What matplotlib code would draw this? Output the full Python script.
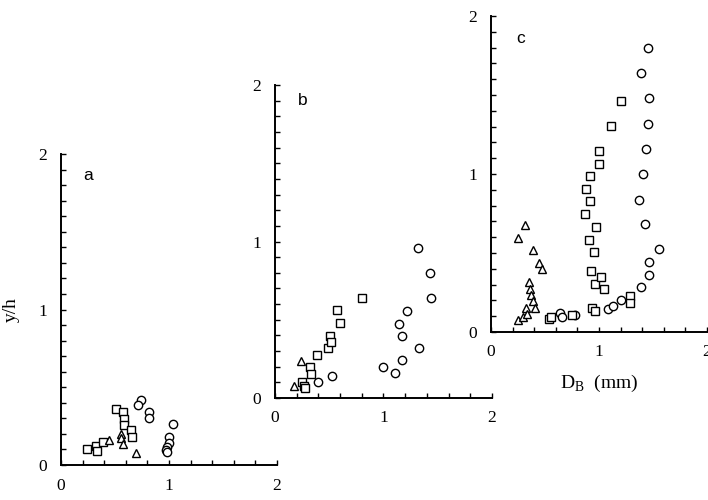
import numpy as np
import matplotlib
matplotlib.use("Agg")
from matplotlib import pyplot as plt
from matplotlib.ticker import MultipleLocator

plt.rcParams['font.family'] = 'serif'
plt.rcParams['font.serif'] = ['Liberation Serif', 'DejaVu Serif']
plt.rcParams['mathtext.fontset'] = 'custom'
plt.rcParams['mathtext.rm'] = 'Liberation Serif'

# panel a
a_sq_x = [0.245, 0.325, 0.33, 0.387, 0.505, 0.57, 0.585, 0.587, 0.648, 0.657]
a_sq_y = [0.104, 0.12, 0.093, 0.146, 0.358, 0.341, 0.297, 0.258, 0.222, 0.18]
a_tr_x = [0.44, 0.555, 0.558, 0.575, 0.69]
a_tr_y = [0.16, 0.20, 0.176, 0.136, 0.08]
a_ci_x = [0.743, 0.715, 0.816, 0.816, 1.035, 1.003, 0.997, 0.98, 0.968, 0.977]
a_ci_y = [0.419, 0.383, 0.342, 0.303, 0.262, 0.182, 0.142, 0.116, 0.098, 0.082]

# panel b
b_sq_x = [0.25, 0.265, 0.28, 0.324, 0.333, 0.389, 0.487, 0.503, 0.512, 0.571, 0.599, 0.80]
b_sq_y = [0.10, 0.075, 0.062, 0.198, 0.155, 0.277, 0.317, 0.396, 0.357, 0.56, 0.477, 0.638]
b_tr_x = [0.178, 0.24]
b_tr_y = [0.077, 0.234]
b_ci_x = [0.401, 0.525, 0.991, 1.109, 1.17, 1.331, 1.14, 1.17, 1.214, 1.319, 1.43, 1.436]
b_ci_y = [0.10, 0.14, 0.198, 0.16, 0.24, 0.317, 0.474, 0.396, 0.557, 0.957, 0.798, 0.638]

# panel c
c_sq_x = [0.538, 0.56, 0.754, 0.938, 0.96, 0.929, 0.96, 1.02, 1.05, 1.283, 1.29,
          0.908, 0.95, 0.975, 0.87, 0.877, 0.92, 0.92, 1.0, 1.0, 1.108, 1.2]
c_sq_y = [0.082, 0.092, 0.109, 0.151, 0.13, 0.385, 0.306, 0.347, 0.27, 0.23, 0.185,
          0.585, 0.506, 0.666, 0.747, 0.904, 0.826, 0.985, 1.066, 1.143, 1.304, 1.464]
c_tr_x = [0.246, 0.298, 0.323, 0.335, 0.354, 0.363, 0.366, 0.385, 0.406,
          0.246, 0.317, 0.388, 0.446, 0.468]
c_tr_y = [0.079, 0.096, 0.155, 0.117, 0.317, 0.272, 0.236, 0.198, 0.151,
          0.598, 0.677, 0.517, 0.436, 0.398]
c_ci_x = [0.637, 0.662, 0.778, 1.083, 1.129, 1.203, 1.39, 1.46, 1.46, 1.56,
          1.43, 1.375, 1.406, 1.437, 1.452, 1.46, 1.39, 1.452]
c_ci_y = [0.122, 0.095, 0.109, 0.145, 0.164, 0.202, 0.283, 0.362, 0.443, 0.523,
          0.681, 0.838, 1.0, 1.16, 1.319, 1.479, 1.638, 1.798]

panels = [
    ("a", [0.0862, 0.070, 0.305, 0.622], (a_sq_x, a_sq_y), (a_tr_x, a_tr_y), (a_ci_x, a_ci_y), (0.25, 1.86)),
    ("b", [0.3884, 0.204, 0.3065, 0.626], (b_sq_x, b_sq_y), (b_tr_x, b_tr_y), (b_ci_x, b_ci_y), (0.26, 1.90)),
    ("c", [0.6935, 0.336, 0.305, 0.632], (c_sq_x, c_sq_y), (c_tr_x, c_tr_y), (c_ci_x, c_ci_y), (0.27, 1.86)),
]

fig = plt.figure(figsize=(7.08, 5.0), dpi=100)
axes = []
for name, rect, sq, tr, ci, lab in panels:
    ax = fig.add_axes(rect)
    ax.patch.set_alpha(0)
    mk = dict(linestyle='none', markerfacecolor='white', markeredgecolor='black',
              markeredgewidth=1.0, clip_on=False)
    ax.plot(ci[0], ci[1], marker='o', markersize=6, **mk)
    ax.plot(sq[0], sq[1], marker='s', markersize=5.5, **mk)
    ax.plot(tr[0], tr[1], marker='^', markersize=6, **mk)
    ax.set_xlim(0, 2)
    ax.set_ylim(0, 2)
    for s in ['top', 'right']:
        ax.spines[s].set_visible(False)
    for s in ['left', 'bottom']:
        ax.spines[s].set_linewidth(1.4)
    ax.xaxis.set_major_locator(MultipleLocator(1))
    ax.xaxis.set_minor_locator(MultipleLocator(0.2))
    ax.yaxis.set_major_locator(MultipleLocator(1))
    ax.yaxis.set_minor_locator(MultipleLocator(0.1))
    ax.tick_params(which='both', direction='in', length=3.5, width=1.0)
    ax.tick_params(axis='x', which='major', pad=9, labelsize=12.5)
    ax.tick_params(axis='y', which='major', pad=10, labelsize=12.5)
    ax.text(lab[0], lab[1], name, fontsize=12.5, family='Liberation Sans',
            ha='center', va='center')
    axes.append(ax)

axes[0].set_ylabel('y/h', fontsize=14)
axes[0].yaxis.set_label_coords(-0.19, 0.5)
axes[2].set_xlabel(r'D$_\mathregular{B}$  (mm)', fontsize=14)
axes[2].xaxis.set_label_coords(0.5, -0.13)

fig.savefig('out.png', dpi=100)
